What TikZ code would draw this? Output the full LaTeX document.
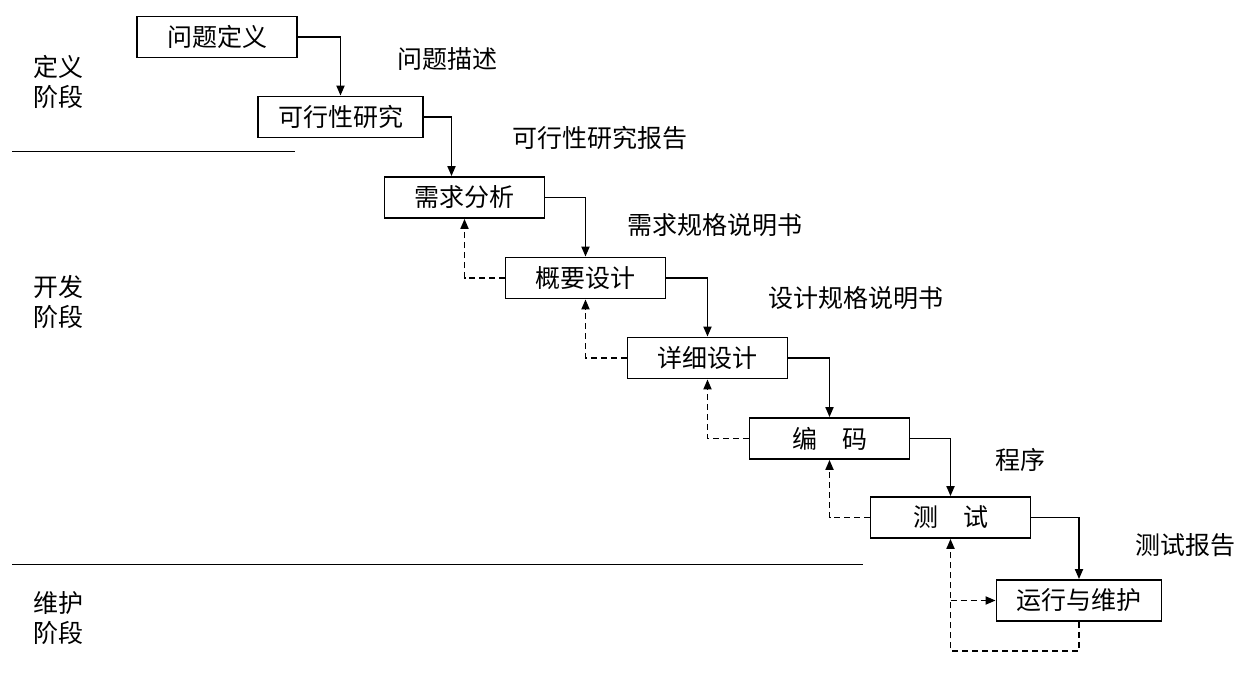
\documentclass[tikz,border=0pt]{standalone}
\usepackage{fontspec}
\setmainfont{Noto Sans CJK SC}
\usetikzlibrary{arrows.meta}

\tikzset{
  every stage/.style={draw, line width=0.9pt, minimum width=80pt, minimum height=20.5pt,
    inner xsep=10pt, inner ysep=0pt, font=\fontsize{12.5}{15}\selectfont},
  every doc/.style={font=\fontsize{12.5}{15}\selectfont, inner sep=0pt},
  every phase/.style={align=center, font=\fontsize{12.5}{15}\selectfont, inner sep=0pt},
  feedback/.style={dashed, dash pattern=on 3pt off 2pt},
}

\begin{document}
\begin{tikzpicture}[x=0.5pt, y=-0.5pt, line width=0.9pt, >={Triangle[length=5pt,width=4pt]}]

    \useasboundingbox (0,0) rectangle (1258,699);

    \foreach \t/\x/\y [count=\i] in {问题定义/217/37, 可行性研究/340.5/117, 需求分析/464.5/197.5,
        概要设计/585.5/278, 详细设计/707.5/358, {编\hspace{1em}码}/829.5/438.5,
        {测\hspace{1em}试}/950.5/517.5, 运行与维护/1079/600.5}
      \node [every stage/.try] (stage-\i) at (\x,\y) {\t};

    \foreach \a/\b/\s in {1/2/0, 2/3/-6.5, 3/4/0, 4/5/0, 5/6/0, 6/7/0, 7/8/0}
      \draw [->] (stage-\a.east) -| ([xshift=\s pt]stage-\b.north);

    \foreach \a/\b in {4/3, 5/4, 6/5, 7/6}
      \draw [->, feedback] (stage-\a.west) -| (stage-\b.south);

    \coordinate (loop-end) at ([yshift=-14.5pt]stage-8.south);
    \draw [->, feedback] (stage-8.south) -- (loop-end) -| (stage-7.south);
    \draw [->, feedback] (stage-7.south |- stage-8.west) -- (stage-8.west);

    \foreach \t/\x/\y [count=\i] in {问题描述/447/59, 可行性研究报告/600/138, 需求规格说明书/715/225,
        设计规格说明书/856/298, 程序/1020/460, 测试报告/1185/545}
      \node [every doc/.try] (doc-\i) at (\x,\y) {\t};

    \foreach \t/\y [count=\i] in {定义/82, 开发/302, 维护/618}
      \node [every phase/.try] (phase-\i) at (58,\y) {\t\\阶段};

    \draw [line width=0.5pt] (12,152) -- (295,152);
    \draw [line width=0.5pt] (12,565) -- (863,565);

\end{tikzpicture}
\end{document}
